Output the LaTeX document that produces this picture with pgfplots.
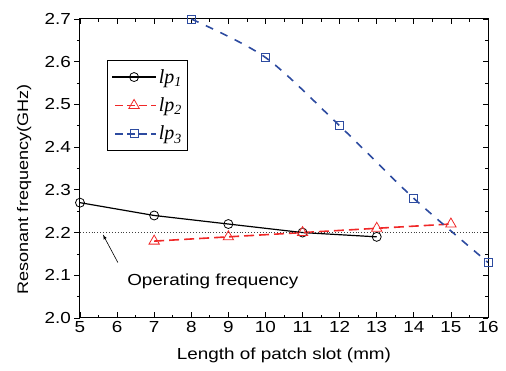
\documentclass[border=0pt]{standalone}
\usepackage{pgfplots}
\pgfplotsset{compat=1.18}
\usepackage{fontspec}
\setmainfont[FakeStretch=1.18]{Liberation Sans}
\newfontfamily\serif{Liberation Serif}
\definecolor{myred}{RGB}{240,40,40}
\definecolor{myblue}{RGB}{45,75,160}
\begin{document}
\begin{tikzpicture}
\pgfplotsset{common/.style={
  scale only axis, width=408pt, height=299pt,
  xmin=5, xmax=16, ymin=2.0, ymax=2.7,
  xtick={5,...,16}, minor x tick num=1,
  ytick={2.0,2.1,...,2.7}, minor y tick num=1,
  major tick length=5.5pt, minor tick length=3pt,
  axis line style={line width=1pt},
  every tick/.style={black, line width=0.8pt},
}}
\begin{axis}[common,
  xtick pos=both, xtick align=inside,
  ytick pos=left, ytick align=outside,
  yticklabel style={/pgf/number format/.cd,fixed,fixed zerofill,precision=1},
  /pgf/number format/assume math mode=true,
  tick label style={font=\fontsize{16}{18}\selectfont},
  label style={font=\fontsize{16}{18}\selectfont},
  xlabel={Length of patch slot (mm)},
  ylabel={Resonant frequency(GHz)},
  xlabel style={at={(axis description cs:0.5,-0.124)}, anchor=center},
  ylabel style={at={(axis description cs:-0.137,0.43)}, anchor=center, font=\fontsize{15.3}{18}\selectfont},
  legend style={at={(0.066,0.863)}, anchor=north west, draw=black, line width=0.8pt,
    font=\fontsize{20}{24}\selectfont, row sep=9pt, inner xsep=4pt, inner ysep=7pt},
  legend image code/.code={\draw[line width=1.5pt, dash pattern=on 8pt off 4pt, dash phase=-3pt, mark repeat=2,mark phase=2] plot coordinates {(0pt,0pt) (22pt,0pt) (44pt,0pt)};},
  legend cell align=left,
  clip=true,
]
\addplot[black, line width=1.2pt, mark=o, mark size=4.5pt, mark options={solid, line width=0.8pt, fill=white}, legend image code/.code={\draw[line width=1.3pt, mark repeat=2,mark phase=2] plot coordinates {(0pt,0pt) (22pt,0pt) (44pt,0pt)};}]
 coordinates {(5,2.27) (7,2.24) (9,2.22) (11,2.20) (13,2.19)};
\addlegendentry{{\serif\itshape lp\textsubscript{1}}}
\addplot[myred, line width=1.6pt, dash pattern=on 10pt off 5pt, mark=triangle, mark size=6pt, mark options={solid, line width=0.8pt, fill=white}]
 coordinates {(7,2.18) (9,2.19) (11,2.20) (13,2.21) (15,2.22)};
\addlegendentry{{\serif\itshape lp\textsubscript{2}}}
\addplot[myblue, line width=1.6pt, dash pattern=on 8pt off 8pt, smooth, mark=square, mark size=4pt, mark options={solid, line width=0.8pt, fill=white}]
 coordinates {(8,2.70) (10,2.61) (12,2.45) (14,2.28) (16,2.13)};
\addlegendentry{{\serif\itshape lp\textsubscript{3}}}
\addplot[black!75, line width=0.9pt, dotted, forget plot] coordinates {(5,2.2) (16,2.2)};
\draw[-latex, black, line width=0.6pt] (axis cs:6.02,2.13) -- (axis cs:5.62,2.195);
\node[anchor=base west, inner sep=0pt, font=\fontsize{16}{18}\selectfont] at (axis cs:6.27,2.075) {Operating frequency};
\end{axis}
\begin{axis}[common,
  axis line style={draw=none},
  xtick=\empty, xticklabels={},
  ytick pos=right, ytick align=inside, yticklabels={},
]
\end{axis}
\path ([shift={(-80pt,-53pt)}]current axis.south west) rectangle ([shift={(18pt,19pt)}]current axis.north east);
\end{tikzpicture}
\end{document}
